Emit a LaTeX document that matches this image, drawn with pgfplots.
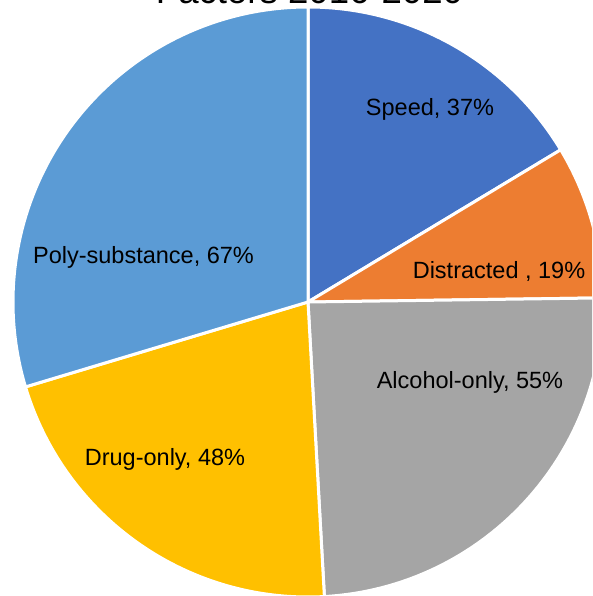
\documentclass[border=0pt]{standalone}
\usepackage{pgfplots}
\pgfplotsset{compat=1.18}
\usepackage{pgfplotstable}
\usepackage{fontspec}
\setmainfont{Liberation Sans}
\definecolor{slice0}{HTML}{4472C4}
\definecolor{slice1}{HTML}{ED7D31}
\definecolor{slice2}{HTML}{A5A5A5}
\definecolor{slice3}{HTML}{FFC000}
\definecolor{slice4}{HTML}{5B9BD5}
\pgfplotstableread{
name value
Speed 37
Distracted 19
Alcohol 55
Drug 48
Poly 67
}\piedata
\begin{document}
\begin{tikzpicture}
\path[use as bounding box] (-308pt,-294pt) rectangle (284pt,302pt);
\clip (-308pt,-294pt) rectangle (284pt,302pt);
\begin{axis}[anchor=origin, at={(0pt,0pt)}, x=1pt, y=1pt,
  xmin=-300, xmax=300, ymin=-300, ymax=300, hide axis, clip=false]
\def\total{0}
\pgfplotsforeachungrouped \i in {0,...,4}{%
  \pgfplotstablegetelem{\i}{value}\of\piedata
  \pgfmathsetmacro\total{\total+\pgfplotsretval}}
\def\cum{0}
\pgfplotsforeachungrouped \i in {0,...,4}{%
  \pgfplotstablegetelem{\i}{value}\of\piedata
  \let\v\pgfplotsretval
  \pgfmathsetmacro\a{90-(\cum/\total)*360}
  \pgfmathsetmacro\cum{\cum+\v}
  \pgfmathsetmacro\b{90-(\cum/\total)*360}
  \edef\temp{\noexpand\filldraw[fill=slice\i,draw=white,line width=3pt,line join=round]
    (axis cs:0,0) -- ++(\a:295pt) arc[start angle=\a,end angle=\b,radius=295pt] -- cycle;}
  \temp
}
\begin{scope}[every node/.style={anchor=base,font=\fontsize{23.5}{27}\selectfont,inner sep=0pt}]
\node at (axis cs:122,186) {Speed, 37\%};
\node at (axis cs:191,23) {Distracted , 19\%};
\node at (axis cs:162,-86) {Alcohol-only, 55\%};
\node at (axis cs:-143,-163) {Drug-only, 48\%};
\node at (axis cs:-164.5,38) {Poly-substance, 67\%};
\end{scope}
\node[anchor=base,inner sep=0pt,font=\fontsize{36.6}{40}\selectfont] at (axis cs:1.5,298) {Factors 2016-2020};
\end{axis}
\end{tikzpicture}
\end{document}
